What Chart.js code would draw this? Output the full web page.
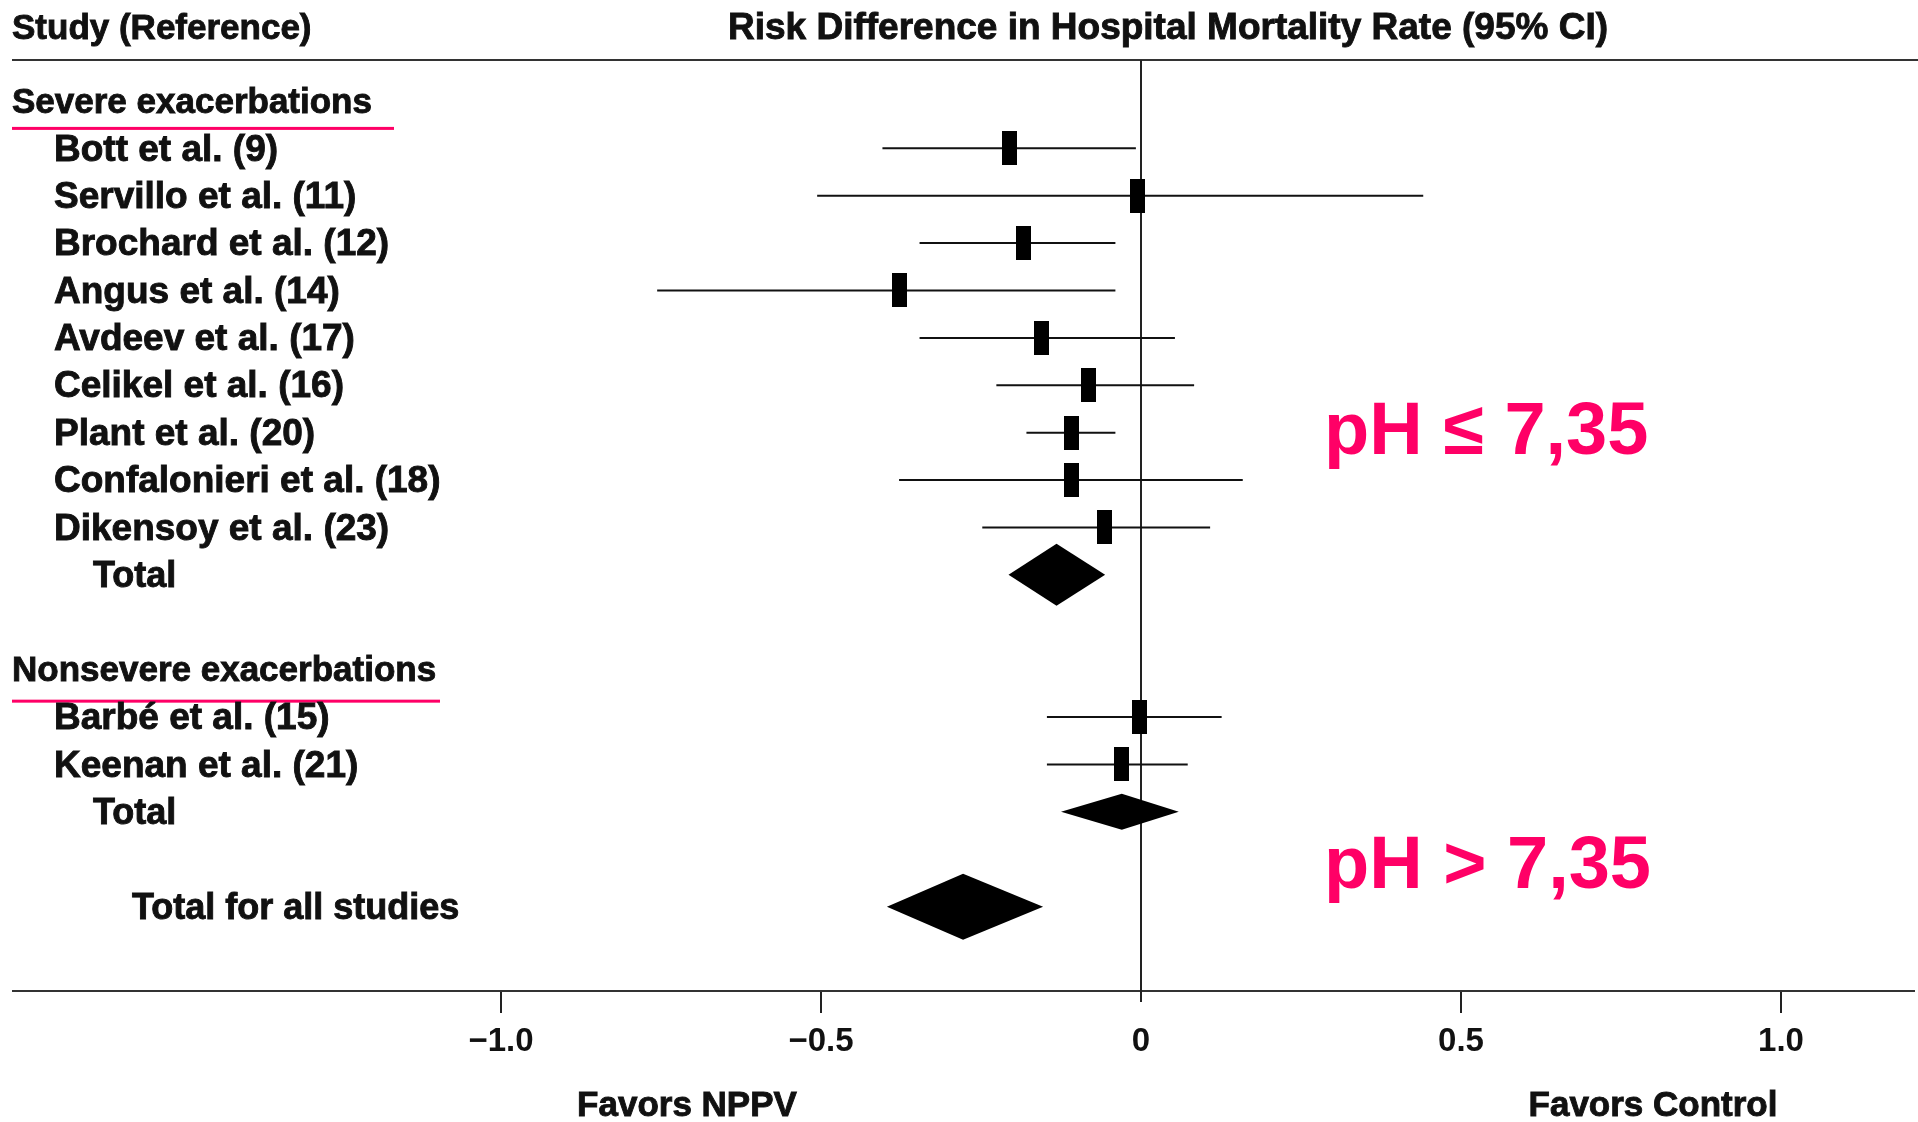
<!DOCTYPE html>
<html>
<head>
<meta charset="utf-8">
<title>Risk Difference in Hospital Mortality Rate</title>
<script src="https://cdn.jsdelivr.net/npm/chart.js@4.4.1/dist/chart.umd.min.js"></script>
<style>
  html, body { margin: 0; padding: 0; background: #fff; }
  #wrap { width: 1918px; height: 1122px; }
</style>
</head>
<body>
<div id="wrap"><canvas id="grafico"></canvas></div>
<script>
// linhas do forest plot, de cima para baixo ("" = linha vazia)
const rotulos = [
  "Severe exacerbations",
  "Bott et al. (9)",
  "Servillo et al. (11)",
  "Brochard et al. (12)",
  "Angus et al. (14)",
  "Avdeev et al. (17)",
  "Celikel et al. (16)",
  "Plant et al. (20)",
  "Confalonieri et al. (18)",
  "Dikensoy et al. (23)",
  "Total",
  "",
  "Nonsevere exacerbations",
  "Barbé et al. (15)",
  "Keenan et al. (21)",
  "Total",
  "",
  "Total for all studies"
];
const tipos = ["grupo", "estudo", "estudo", "estudo", "estudo", "estudo", "estudo", "estudo", "estudo", "estudo",
  "total", "", "grupo", "estudo", "estudo", "total", "", "geral"];

// diferenca de risco e IC 95%
const estimativa = [null, -0.206, -0.006, -0.184, -0.378, -0.155, -0.082, -0.108, -0.108, -0.057,
  -0.132, null, null, -0.002, -0.030, -0.030, null, -0.278];
const limiteInf = [null, -0.404, -0.506, -0.346, -0.756, -0.346, -0.226, -0.179, -0.378, -0.248,
  -0.207, null, null, -0.147, -0.147, -0.125, null, -0.397];
const limiteSup = [null, -0.008, 0.441, -0.040, -0.040, 0.053, 0.083, -0.040, 0.159, 0.108,
  -0.056, null, null, 0.126, 0.073, 0.059, null, -0.153];

const ticksX = [-1, -0.5, 0, 0.5, 1];
const ticksRotulos = ["−1.0", "−0.5", "0", "0.5", "1.0"];

const fonte = '"Liberation Sans", Arial, sans-serif';
const rosa = "#FF0066";
// estilo por tipo de linha
const tamanhoFonte = { grupo: 35, estudo: 37, total: 36, geral: 36 };
const recuo = { grupo: 12, estudo: 54, total: 93, geral: 132 };
// sublinhado rosa dos grupos: [fim em x, distancia abaixo do texto]
const sublinhado = { 0: [394, 27], 12: [440, 31] };
// meia altura dos diamantes (px)
const meiaAltura = { 10: 31, 15: 18, 17: 33 };

// quadradinho dos estudos
const caixa = document.createElement("canvas");
caixa.width = 15;
caixa.height = 34;
const cctx = caixa.getContext("2d");
cctx.fillStyle = "#000";
cctx.fillRect(0, 0, 15, 34);

const pontos = [];
tipos.forEach((t, i) => {
  if (t === "estudo") pontos.push({ x: estimativa[i], y: i });
});

function linha(ctx, x1, y1, x2, y2) {
  ctx.beginPath();
  ctx.moveTo(x1, y1);
  ctx.lineTo(x2, y2);
  ctx.stroke();
}

// texto preto um pouco mais pesado, como no original
function texto(ctx, s, x, y) {
  ctx.fillText(s, x, y);
  ctx.strokeText(s, x, y);
}

const desenhoForest = {
  id: "desenhoForest",
  beforeDatasetsDraw(chart) {
    const ctx = chart.ctx;
    const x = chart.scales.x;
    const y = chart.scales.y;
    const area = chart.chartArea;
    ctx.save();

    // regras horizontais
    ctx.strokeStyle = "#333";
    ctx.lineWidth = 2;
    linha(ctx, 12, area.top, 1918, area.top);
    linha(ctx, 12, area.bottom, 1915, area.bottom);

    // linha do zero
    const x0 = x.getPixelForValue(0);
    ctx.strokeStyle = "#222";
    linha(ctx, x0, area.top, x0, area.bottom + 11);

    // intervalos de confianca
    ctx.strokeStyle = "#111";
    ctx.lineWidth = 2;
    tipos.forEach((t, i) => {
      if (t !== "estudo") return;
      const py = y.getPixelForValue(i);
      linha(ctx, x.getPixelForValue(limiteInf[i]), py, x.getPixelForValue(limiteSup[i]), py);
    });

    // diamantes dos totais
    ctx.fillStyle = "#000";
    tipos.forEach((t, i) => {
      if (t !== "total" && t !== "geral") return;
      const h = meiaAltura[i];
      const py = y.getPixelForValue(i);
      ctx.beginPath();
      ctx.moveTo(x.getPixelForValue(limiteInf[i]), py);
      ctx.lineTo(x.getPixelForValue(estimativa[i]), py - h);
      ctx.lineTo(x.getPixelForValue(limiteSup[i]), py);
      ctx.lineTo(x.getPixelForValue(estimativa[i]), py + h);
      ctx.closePath();
      ctx.fill();
    });

    // textos
    ctx.fillStyle = "#111";
    ctx.strokeStyle = "#111";
    ctx.lineWidth = 0.9;
    ctx.textBaseline = "middle";
    ctx.textAlign = "left";
    ctx.font = "bold 35px " + fonte;
    texto(ctx, "Study (Reference)", 12, 29);
    ctx.textAlign = "center";
    ctx.font = "bold 37px " + fonte;
    texto(ctx, "Risk Difference in Hospital Mortality Rate (95% CI)", 1168, 29);

    ctx.textAlign = "left";
    rotulos.forEach((r, i) => {
      if (!r) return;
      const py = y.getPixelForValue(i) + 2;
      ctx.fillStyle = "#111";
      ctx.font = "bold " + tamanhoFonte[tipos[i]] + "px " + fonte;
      texto(ctx, r, recuo[tipos[i]], py);
      if (sublinhado[i]) {
        ctx.fillStyle = rosa;
        ctx.fillRect(12, y.getPixelForValue(i) + sublinhado[i][1] - 1, sublinhado[i][0] - 12, 3);
      }
    });

    ctx.fillStyle = "#111";
    ctx.textAlign = "center";
    ctx.font = "bold 35px " + fonte;
    texto(ctx, "Favors NPPV", 687, 1106);
    texto(ctx, "Favors Control", 1653, 1106);

    ctx.fillStyle = rosa;
    ctx.textAlign = "left";
    ctx.textBaseline = "alphabetic";
    ctx.font = "bold 74px " + fonte;
    ctx.fillText("pH ≤ 7,35", 1324, 454);
    ctx.fillText("pH > 7,35", 1324, 888);

    ctx.restore();
  }
};

new Chart(document.getElementById("grafico"), {
  type: "scatter",
  data: {
    datasets: [{
      label: "Estudos",
      data: pontos,
      pointStyle: caixa,
      pointRadius: 8,
      pointHoverRadius: 8,
      backgroundColor: "#000"
    }]
  },
  options: {
    responsive: true,
    maintainAspectRatio: false,
    animation: false,
    layout: { padding: { left: 373, right: 9, top: 60, bottom: 0 } },
    plugins: {
      legend: { display: false },
      tooltip: { enabled: false }
    },
    scales: {
      x: {
        type: "linear",
        min: -1.2,
        max: 1.2,
        afterBuildTicks: (s) => { s.ticks = ticksX.map(v => ({ value: v })); },
        afterFit: (s) => { s.height = 131; },
        border: { display: false },
        grid: {
          drawOnChartArea: false,
          drawTicks: true,
          tickLength: 22,
          lineWidth: 2,
          color: (c) => (c.tick && c.tick.value === 0 ? "rgba(0,0,0,0)" : "#222")
        },
        ticks: {
          padding: 9,
          color: "#111",
          maxRotation: 0,
          autoSkip: false,
          font: { family: fonte, size: 33, weight: "bold" },
          callback: (v) => ticksRotulos[ticksX.indexOf(v)]
        }
      },
      y: {
        type: "linear",
        min: -0.863,
        max: 18.78,
        reverse: true,
        display: false
      }
    }
  },
  plugins: [desenhoForest]
});
</script>
</body>
</html>
